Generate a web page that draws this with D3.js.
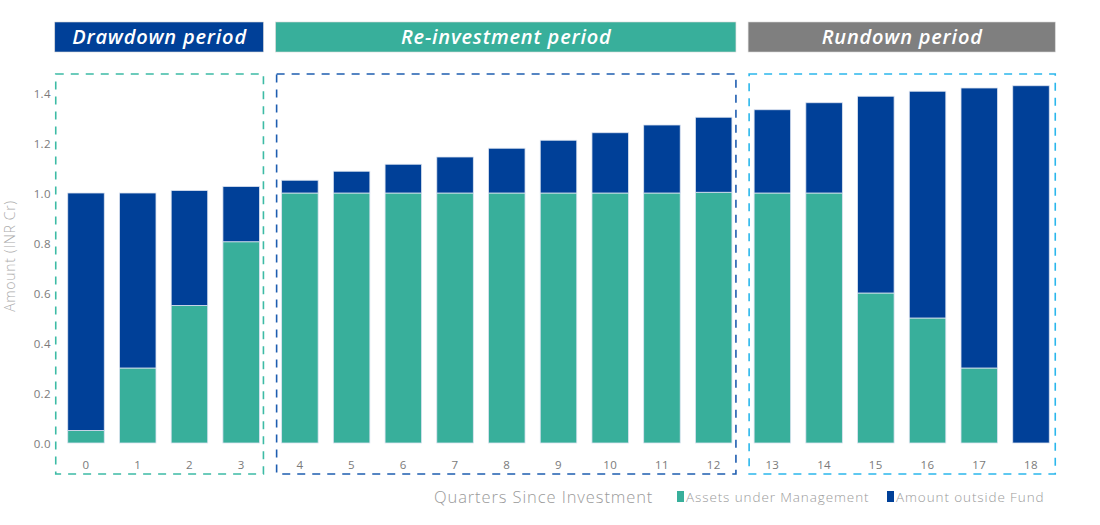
<!DOCTYPE html>
<html>
<head>
<meta charset="utf-8">
<script src="https://cdn.jsdelivr.net/npm/d3@7"></script>
<style>
  body { margin: 0; background: #fff; }
  svg text { font-family: "Open Sans", sans-serif; }
</style>
</head>
<body>
<div id="chart"></div>
<script>
// chart data
const quarters = ["0","1","2","3","4","5","6","7","8","9","10","11","12","13","14","15","16","17","18"];
const aum = [0.05, 0.30, 0.55, 0.805, 1.0, 1.0, 1.0, 1.0, 1.0, 1.0, 1.0, 1.0, 1.003, 1.0, 1.0, 0.60, 0.50, 0.30, 0.0];
const totals = [1.0, 1.0, 1.01, 1.026, 1.051, 1.087, 1.115, 1.144, 1.179, 1.211, 1.241, 1.272, 1.303, 1.333, 1.361, 1.387, 1.407, 1.42, 1.429];
const outside = totals.map((t, i) => t - aum[i]);
const yTicks = [0, 0.2, 0.4, 0.6, 0.8, 1.0, 1.2, 1.4];
const periods = ["Drawdown period", "Re-investment period", "Rundown period"];
const periodStart = [0, 4, 13];
const periodEnd = [3, 12, 18];
const seriesNames = ["Assets under Management", "Amount outside Fund"];

const width = 1100, height = 525;
const teal = "#38af9b", navy = "#004098";
const headerFill = [navy, teal, "#7f7f7f"];
const boxStroke = ["#3dbba5", "#1e5db0", "#2bb7ec"];

const svg = d3.select("#chart").append("svg")
  .attr("width", width)
  .attr("height", height);

// group index for each quarter (adds a small gap between periods)
const groupOf = i => periodStart.filter(s => i >= s).length - 1;
const gapUnits = 0.135;

const x = d3.scaleLinear()
  .domain([0, 18 + 2 * gapUnits])
  .range([86, 1031]);
const xc = i => x(i + groupOf(i) * gapUnits);
const step = x(1) - x(0);
const barW = step * 0.706;

const y = d3.scaleLinear()
  .domain([0, 1.4])
  .range([443, 93]);

// y axis (labels only)
const yAxis = svg.append("g")
  .attr("transform", "translate(51,0)")
  .call(d3.axisLeft(y).tickValues(yTicks).tickFormat(d3.format(".1f")).tickSize(0).tickPadding(0));
yAxis.select(".domain").remove();
yAxis.selectAll("text")
  .attr("fill", "#7a7a7a")
  .style("font-size", "11.5px")
  .style("letter-spacing", "0.4px")
  .attr("dy", "0.35em");

svg.append("text")
  .attr("transform", "translate(15,256) rotate(-90)")
  .attr("text-anchor", "middle")
  .attr("fill", "#ababab")
  .style("font-size", "14px")
  .style("font-weight", 300)
  .style("letter-spacing", "0.7px")
  .text("Amount (INR Cr)");

// stacked bars
const stackData = quarters.map((q, i) => ({ i: i, aum: aum[i], outside: outside[i] }));
const stack = d3.stack().keys(["aum", "outside"])(stackData);
const colors = [teal, navy];

svg.append("g").selectAll("g")
  .data(stack)
  .join("g")
    .attr("fill", (d, k) => colors[k])
  .selectAll("rect")
  .data(d => d.filter(p => p[1] - p[0] > 0))
  .join("rect")
    .attr("x", p => xc(p.data.i) - barW / 2)
    .attr("y", p => y(p[1]))
    .attr("width", barW)
    .attr("height", p => y(p[0]) - y(p[1]))
    .attr("stroke", "#dbe3f0")
    .attr("stroke-width", 0.8);

// x tick labels
svg.append("g").selectAll("text")
  .data(quarters)
  .join("text")
    .attr("x", (d, i) => xc(i))
    .attr("y", 465)
    .attr("dy", "0.35em")
    .attr("text-anchor", "middle")
    .attr("fill", "#7a7a7a")
    .style("font-size", "11.5px")
    .style("letter-spacing", "0.4px")
    .text(d => d);

// period boxes + headers
periods.forEach((p, k) => {
  const left = xc(periodStart[k]) - barW / 2 - (k == 0 ? 12 : 5);
  const right = xc(periodEnd[k]) + barW / 2 + (k == 2 ? 6 : 4);
  svg.append("rect")
    .attr("x", left)
    .attr("y", 74)
    .attr("width", right - left)
    .attr("height", 400)
    .attr("fill", "none")
    .attr("stroke", boxStroke[k])
    .attr("stroke-width", 1.6)
    .attr("stroke-dasharray", "8,7");

  svg.append("rect")
    .attr("x", left - 1)
    .attr("y", 22)
    .attr("width", right - left + 1)
    .attr("height", 30)
    .attr("fill", headerFill[k])
    .attr("stroke", "#d6d6d6")
    .attr("stroke-width", 0.6);

  svg.append("text")
    .attr("x", (left + right) / 2)
    .attr("y", 37)
    .attr("dy", "0.35em")
    .attr("text-anchor", "middle")
    .attr("fill", "#fff")
    .style("font-size", "20px")
    .style("font-style", "italic")
    .style("font-weight", 600)
    .style("letter-spacing", "0.8px")
    .text(p);
});

// x title and legend
svg.append("text")
  .attr("x", 434)
  .attr("y", 497)
  .attr("dy", "0.35em")
  .attr("fill", "#9a9a9a")
  .style("font-size", "16.5px")
  .style("font-weight", 300)
  .style("letter-spacing", "0.9px")
  .text("Quarters Since Investment");

const legendX = [677, 887];
seriesNames.forEach((n, k) => {
  svg.append("rect")
    .attr("x", legendX[k])
    .attr("y", 491)
    .attr("width", 7)
    .attr("height", 11)
    .attr("fill", colors[k]);
  svg.append("text")
    .attr("x", legendX[k] + 9)
    .attr("y", 497)
    .attr("dy", "0.35em")
    .attr("fill", "#9a9a9a")
    .style("font-size", "13.5px")
    .style("font-weight", 300)
    .style("letter-spacing", "0.9px")
    .text(n);
});
</script>
</body>
</html>
